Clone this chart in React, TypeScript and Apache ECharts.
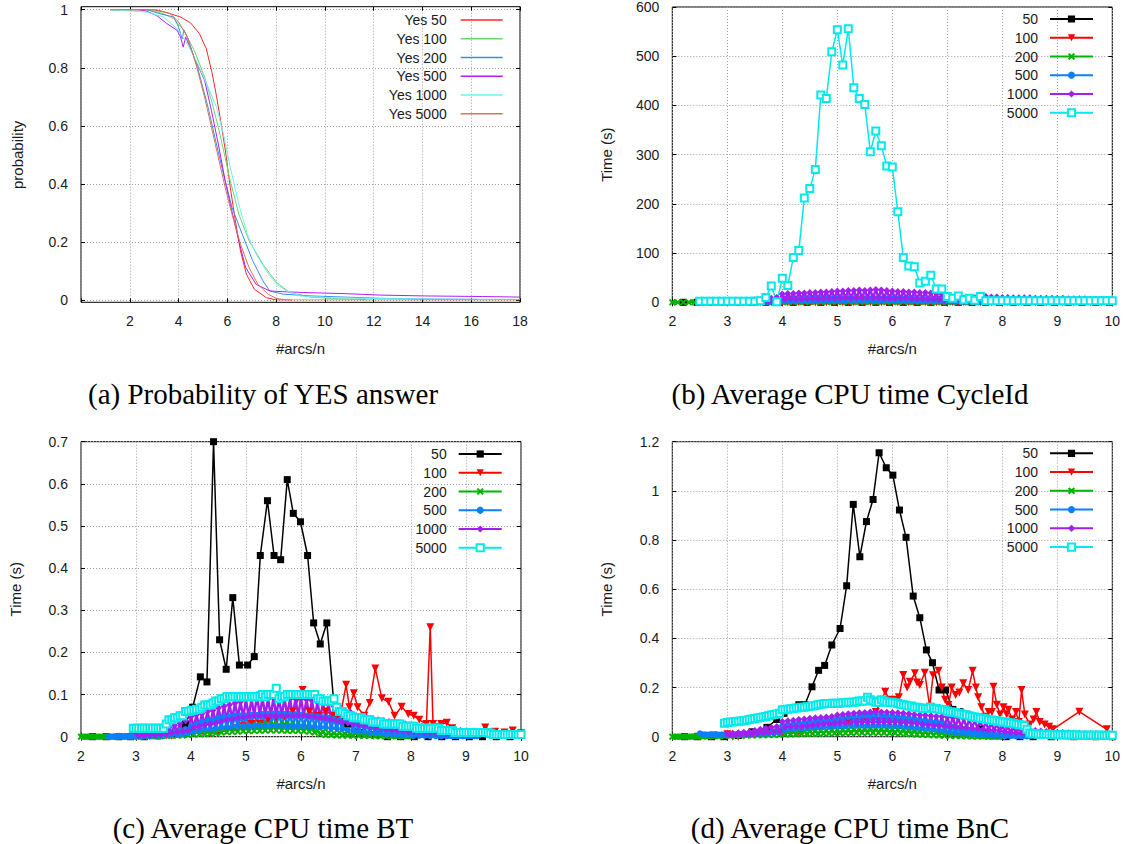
import React, { useEffect, useRef } from 'react';
import * as echarts from 'echarts';

type P = [number, number];
const N = null;

// coarse x positions (#arcs/n), step 0.1
const XS = [
  2.0, 2.1, 2.2, 2.3, 2.4, 2.5, 2.6, 2.7, 2.8, 2.9,
  3.0, 3.1, 3.2, 3.3, 3.4, 3.5, 3.6, 3.7, 3.8, 3.9,
  4.0, 4.1, 4.2, 4.3, 4.4, 4.5, 4.6, 4.7, 4.8, 4.9,
  5.0, 5.1, 5.2, 5.3, 5.4, 5.5, 5.6, 5.7, 5.8, 5.9,
  6.0, 6.1, 6.2, 6.3, 6.4, 6.5, 6.6, 6.7, 6.8, 6.9,
  7.0, 7.1, 7.2, 7.3, 7.4, 7.5, 7.6, 7.7, 7.8, 7.9,
  8.0, 8.1, 8.2, 8.3, 8.4, 8.5, 8.6, 8.7, 8.8, 8.9,
  9.0, 9.1, 9.2, 9.3, 9.4, 9.5, 9.6, 9.7, 9.8, 9.9,
  10.0,
];

// fine x positions (#arcs/n), step 0.05, for the densely sampled series
const XF = [
  2, 2.05, 2.1, 2.15, 2.2, 2.25, 2.3, 2.35, 2.4, 2.45,
  2.5, 2.55, 2.6, 2.65, 2.7, 2.75, 2.8, 2.85, 2.9, 2.95,
  3, 3.05, 3.1, 3.15, 3.2, 3.25, 3.3, 3.35, 3.4, 3.45,
  3.5, 3.55, 3.6, 3.65, 3.7, 3.75, 3.8, 3.85, 3.9, 3.95,
  4, 4.05, 4.1, 4.15, 4.2, 4.25, 4.3, 4.35, 4.4, 4.45,
  4.5, 4.55, 4.6, 4.65, 4.7, 4.75, 4.8, 4.85, 4.9, 4.95,
  5, 5.05, 5.1, 5.15, 5.2, 5.25, 5.3, 5.35, 5.4, 5.45,
  5.5, 5.55, 5.6, 5.65, 5.7, 5.75, 5.8, 5.85, 5.9, 5.95,
  6, 6.05, 6.1, 6.15, 6.2, 6.25, 6.3, 6.35, 6.4, 6.45,
  6.5, 6.55, 6.6, 6.65, 6.7, 6.75, 6.8, 6.85, 6.9, 6.95,
  7, 7.05, 7.1, 7.15, 7.2, 7.25, 7.3, 7.35, 7.4, 7.45,
  7.5, 7.55, 7.6, 7.65, 7.7, 7.75, 7.8, 7.85, 7.9, 7.95,
  8, 8.05, 8.1, 8.15, 8.2, 8.25, 8.3, 8.35, 8.4, 8.45,
  8.5, 8.55, 8.6, 8.65, 8.7, 8.75, 8.8, 8.85, 8.9, 8.95,
  9, 9.05, 9.1, 9.15, 9.2, 9.25, 9.3, 9.35, 9.4, 9.45,
  9.5, 9.55, 9.6, 9.65, 9.7, 9.75, 9.8, 9.85, 9.9, 9.95,
  10,
];

// ---------- (a) Probability of YES answer ----------
const A_NAMES = ['Yes 50', 'Yes 100', 'Yes 200', 'Yes 500', 'Yes 1000', 'Yes 5000'];
const A_YES50: P[] = [[1.2, 1], [2.96, 1], [3.52, 0.99], [4.08, 0.975], [4.5, 0.954], [4.86, 0.917], [5.14, 0.865], [5.38, 0.78], [5.56, 0.7], [5.77, 0.595], [5.94, 0.503], [6.12, 0.388], [6.33, 0.273], [6.54, 0.169], [6.78, 0.089], [7.11, 0.037], [7.6, 0.008], [8.02, 0], [8.65, 0]];
const A_YES100: P[] = [[1.2, 1], [2.82, 1], [3.38, 0.986], [3.8, 0.969], [4.22, 0.929], [4.64, 0.86], [5.07, 0.768], [5.35, 0.687], [5.63, 0.595], [5.91, 0.491], [6.12, 0.411], [6.47, 0.296], [6.89, 0.204], [7.46, 0.123], [8.02, 0.06], [8.58, 0.025], [9.43, 0.01], [10.27, 0.005], [11.68, 0.002]];
const A_YES200: P[] = [[1.2, 1], [2.68, 1], [3.24, 0.986], [3.8, 0.975], [4.0, 0.94], [4.15, 0.9], [4.22, 0.93], [4.36, 0.906], [4.78, 0.8], [5.21, 0.664], [5.49, 0.56], [5.84, 0.434], [6.19, 0.319], [6.61, 0.227], [7.04, 0.135], [7.46, 0.066], [7.74, 0.031], [8.3, 0.02], [9.43, 0.014], [10.83, 0.01], [12.24, 0.006], [14.35, 0.003], [16.25, 0.002]];
const A_YES500: P[] = [[2.39, 1], [2.68, 0.995], [3.1, 0.98], [3.52, 0.952], [3.94, 0.929], [4.08, 0.906], [4.19, 0.871], [4.29, 0.906], [4.64, 0.837], [5.07, 0.756], [5.35, 0.652], [5.63, 0.537], [5.91, 0.411], [6.12, 0.33], [6.47, 0.204], [6.75, 0.112], [7.18, 0.054], [7.74, 0.031], [8.44, 0.028], [9.43, 0.025], [10.83, 0.022], [12.24, 0.017], [14.07, 0.014], [16.46, 0.012], [18, 0.01]];
const A_YES1000: P[] = [[1.2, 1], [2.68, 0.992], [3.38, 0.975], [3.94, 0.934], [4.36, 0.883], [4.78, 0.814], [5.21, 0.733], [5.56, 0.664], [5.84, 0.572], [6.12, 0.457], [6.47, 0.33], [6.82, 0.227], [7.18, 0.158], [7.6, 0.1], [8.02, 0.054], [8.44, 0.031], [9.0, 0.014], [10.13, 0.008], [12.24, 0.005], [15.05, 0.003], [18, 0.002]];
const A_YES5000: P[] = [[1.2, 1], [3.1, 1], [3.66, 0.986], [4.01, 0.957], [4.36, 0.906], [4.71, 0.814], [5.07, 0.698], [5.35, 0.595], [5.63, 0.491], [5.91, 0.388], [6.19, 0.296], [6.54, 0.192], [6.89, 0.112], [7.25, 0.054], [7.67, 0.02], [8.02, 0.005], [8.44, 0], [18, 0]];
const A_X_TICKS = [0, 18, 2];
const A_Y_TICKS = [0, 1, 0.2];

// ---------- series names for b, c, d ----------
const N_NAMES = ['50', '100', '200', '500', '1000', '5000'];

// ---------- (b) Average CPU time CycleId ----------
const B_50: P[] = [[2.2, 0], [2.45, 0], [2.7, 0], [2.95, 0], [3.2, 0], [3.45, 0], [3.7, 0], [3.95, 0], [4.2, 0], [4.45, 0], [4.7, 0], [4.95, 0], [5.2, 0], [5.45, 0], [5.7, 0], [5.95, 0], [6.2, 0], [6.45, 0], [6.7, 0], [6.95, 0], [7.2, 0], [7.45, 0], [7.7, 0], [7.95, 0], [8.2, 0], [8.45, 0], [8.7, 0], [8.95, 0], [9.2, 0], [9.45, 0], [9.7, 0], [9.95, 0]];
const B_100 = [
  N, N, N, N, N, 0, 0, 0, 0, 0,
  0, 0, 0, 0, 0, 0, 0, 0, 0, 0,
  0, 0, 0, 0, 0, 0, 0, 0, 0, 0,
  0, 0, 0, 0, 0, 0, 0, 0, 0, 0,
  0, 0, 0, 0, 0, 0, 0, 0, 0, 0,
  0, 0, 0, 0, 0, 0, 0, 0, 0, 0,
  0, 0, 0, 0, 0, 0, 0, 0, 0, 0,
  0, 0, 0, 0, 0, 0, 0, 0, 0, 0,
  0,
];
const B_200 = [
  0, 0, 0, 0, 0, 0, 0, 0, 0, 0,
  0, 0, 0, 0, 0, 0, 0, 0.2, 0.3, 0.2,
  0.6, 0.3, 0.8, 0.4, 0.9, 0.4, 1, 0.5, 1.1, 0.5,
  1.2, 0.5, 1.2, 0.6, 1.3, 0.6, 1.2, 0.5, 1.2, 0.5,
  1.1, 0.5, 1, 0.4, 0.9, 0.4, 0.8, 0.3, 0.6, 0.3,
  0.4, 0.2, 0.3, 0.1, 0.2, 0.1, 0.1, N, N, N,
  N, N, N, N, N, N, N, N, N, N,
  N, N, N, N, N, N, N, N, N, N,
  N,
];
const B_500F = [
  N, N, N, N, N, N, N, N, N, N,
  0, 0, 0, 0, 0, 0, 0, 0, 0, 0,
  0, 0, 0.1, 0, 0.2, 0, 0.3, 0.1, 0.4, 0.1,
  0.5, 0.2, 0.6, 0.2, 0.8, 0.3, 1.5, 0.5, 2, 0.5,
  5, 2, 5.5, 2, 6, 2, 6, 2.5, 6.5, 2.5,
  6.5, 2.5, 7, 3, 7, 3, 7, 3, 7.5, 3,
  7.5, 3, 8, 3, 8, 3.5, 8, 3.5, 8, 3.5,
  8, 3.5, 8, 3.5, 8, 3.5, 7.5, 3.5, 7.5, 3,
  7.5, 3, 7, 3, 7, 3, 7, 3, 6.5, 2.5,
  6, 2.5, 6, 2, 5.5, 2, 5, 2, 4.5, 1.5,
  4, 1.5, 3.5, 1, 3, 1, 2.5, 1, 2, 0.8,
  1.5, 0.6, 1.2, 0.5, 1, 0.4, 0.8, 0.3, 0.6, 0.2,
  0.5, 0.2, 0.4, 0.2, 0.3, 0.1, 0.3, 0.1, 0.3, 0.1,
  0.2, 0.1, 0.2, 0.1, 0.2, 0.1, 0.2, 0.1, 0.2, 0.1,
  0.2, 0.1, 0.2, 0.1, 0.2, 0.1, 0.2, 0.1, 0.2, 0.1,
  0.2, 0.1, 0.2, 0.1, 0.2, 0.1, 0.2, 0.1, 0.2, 0.1,
  0.1,
];
const B_1000F = [
  N, N, N, N, N, N, N, N, N, N,
  1, 0.5, 1, 0.5, 1.2, 0.5, 1.2, 0.6, 1.5, 0.6,
  2, 0.8, 2, 1, 2.5, 1, 3, 1, 4, 1.5,
  5, 2, 5, 2, 6, 2, 8, 3, 10, 3,
  17, 6, 18, 7, 18, 6, 19, 7, 19, 7,
  20, 8, 20, 7, 21, 8, 21, 8, 22, 8,
  23, 8, 23, 9, 24, 8, 24, 9, 25, 9,
  24, 9, 25, 9, 26, 9, 25, 8, 24, 8,
  23, 8, 22, 8, 22, 8, 21, 7, 21, 7,
  20, 7, 20, 6, 19, 6, 18, 6, 17, 5,
  12, 5, 10, 4, 9, 4, 8, 4, 9, 4,
  9, 4, 10, 4, 12, 5, 11, 5, 11, 5,
  10, 4, 10, 4, 9, 4, 9, 4, 9, 4,
  9, 4, 8, 4, 8, 3, 8, 3, 8, 3,
  8, 3, 8, 3, 7, 3, 7, 3, 7, 3,
  7, 3, 6, 3, 6, 3, 6, 3, 6, 3,
  5,
];
const B_5000 = [
  N, N, N, N, N, 2, 2, 2, 2, 2,
  2, 2, 2, 2, 2, 2, 3, 10, 33, 1,
  49, 34, 91, 105, 212, 231, 270, 421, 414, 509,
  554, 482, 556, 436, 414, 402, 306, 348, 318, 277,
  275, 184, 91, 74, 72, 39, 43, 55, 27, 27,
  12, 8, 13, 5, 8, 4, 12, 3, 3, 3,
  3, 3, 3, 3, 3, 3, 3, 3, 3, 3,
  3, 3, 3, 3, 3, 3, 3, 3, 3, 3,
  3,
];
const B_Y_TICKS = [0, 600, 100];

// ---------- (c) Average CPU time BT ----------
const C_50: P[] = [[2.21, 0], [2.46, 0], [2.69, 0], [2.9, 0], [3.15, 0], [3.4, 0.002], [3.65, 0.005], [3.9, 0.03], [4.03, 0.07], [4.17, 0.142], [4.29, 0.13], [4.41, 0.7], [4.52, 0.23], [4.64, 0.16], [4.76, 0.33], [4.88, 0.17], [5.03, 0.17], [5.15, 0.19], [5.26, 0.43], [5.39, 0.56], [5.51, 0.43], [5.63, 0.42], [5.75, 0.61], [5.86, 0.53], [5.99, 0.51], [6.12, 0.43], [6.23, 0.27], [6.35, 0.22], [6.47, 0.27], [6.59, 0.09], [6.72, 0.05], [6.85, 0.03], [7.1, 0.01], [7.35, 0.005], [7.57, 0], [7.81, 0], [8.06, 0], [8.31, 0], [8.56, 0], [8.81, 0], [9.06, 0], [9.3, 0], [9.55, 0], [9.8, 0]];
const C_100: P[] = [[2.95, 0.001], [3.05, 0.001], [3.15, 0.002], [3.25, 0.001], [3.35, 0.002], [3.45, 0.002], [3.55, 0.003], [3.65, 0.002], [3.75, 0.005], [3.9, 0.008], [4.05, 0.01], [4.2, 0.012], [4.35, 0.008], [4.5, 0.01], [4.65, 0.015], [4.8, 0.02], [4.95, 0.025], [5.1, 0.03], [5.25, 0.03], [5.4, 0.04], [5.55, 0.045], [5.7, 0.05], [5.85, 0.06], [6.03, 0.111], [6.15, 0.06], [6.3, 0.05], [6.45, 0.06], [6.6, 0.05], [6.7, 0.04], [6.82, 0.123], [6.88, 0.07], [6.96, 0.103], [7.03, 0.07], [7.15, 0.05], [7.25, 0.08], [7.35, 0.162], [7.47, 0.091], [7.59, 0.083], [7.7, 0.05], [7.83, 0.071], [7.95, 0.054], [8.05, 0.05], [8.15, 0.04], [8.28, 0.03], [8.35, 0.26], [8.4, 0.03], [8.55, 0.03], [8.65, 0.033], [8.75, 0.02], [8.85, 0.008], [9.0, 0.008], [9.15, 0.01], [9.35, 0.022], [9.53, 0.012], [9.7, 0.01], [9.85, 0.015], [10, 0.008]];
const C_200F = [
  0, 0, 0, 0, 0, 0, 0, 0, 0, 0,
  0, 0, 0, 0, 0, 0, 0, 0, 0, 0,
  0.001, 0, 0.001, 0, 0.002, 0.001, 0.002, 0.001, 0.003, 0.001,
  0.004, 0.002, 0.005, 0.002, 0.006, 0.003, 0.007, 0.003, 0.008, 0.004,
  0.01, 0.005, 0.012, 0.006, 0.013, 0.006, 0.014, 0.007, 0.015, 0.008,
  0.018, 0.01, 0.02, 0.011, 0.022, 0.012, 0.024, 0.012, 0.025, 0.013,
  0.025, 0.013, 0.026, 0.014, 0.027, 0.014, 0.028, 0.015, 0.028, 0.015,
  0.03, 0.015, 0.028, 0.015, 0.03, 0.014, 0.028, 0.014, 0.027, 0.014,
  0.026, 0.013, 0.025, 0.012, 0.024, 0.01, 0.015, 0.006, 0.012, 0.004,
  0.01, 0.004, 0.008, 0.003, 0.01, 0.003, 0.007, 0.003, 0.006, 0.002,
  0.01, 0.002, 0.006, 0.002, 0.005, 0.002, 0.005, 0.001, 0.004, 0.001,
  0.004, 0.001, 0.003, 0.001, 0.003, 0.001, 0.002, 0.001, 0.002, 0.001,
  0.001, N, N, N, N, N, N, N, N, N,
  N, N, N, N, N, N, N, N, N, N,
  N, N, N, N, N, N, N, N, N, N,
  N, N, N, N, N, N, N, N, N, N,
  N,
];
const C_500F = [
  N, N, N, N, N, N, N, N, N, N,
  0.001, 0, 0.001, 0, 0.002, 0.001, 0.002, 0.001, 0.002, 0.001,
  0.003, 0.001, 0.003, 0.001, 0.004, 0.001, 0.005, 0.002, 0.006, 0.002,
  0.008, 0.003, 0.01, 0.004, 0.012, 0.005, 0.015, 0.006, 0.018, 0.008,
  0.025, 0.012, 0.03, 0.015, 0.035, 0.018, 0.038, 0.018, 0.04, 0.02,
  0.045, 0.022, 0.047, 0.023, 0.048, 0.024, 0.05, 0.024, 0.05, 0.025,
  0.05, 0.025, 0.052, 0.025, 0.052, 0.026, 0.054, 0.026, 0.054, 0.026,
  0.055, 0.026, 0.055, 0.026, 0.054, 0.025, 0.054, 0.025, 0.053, 0.025,
  0.052, 0.025, 0.05, 0.024, 0.05, 0.024, 0.048, 0.022, 0.046, 0.022,
  0.045, 0.02, 0.042, 0.02, 0.04, 0.018, 0.038, 0.016, 0.035, 0.015,
  0.032, 0.013, 0.03, 0.012, 0.027, 0.01, 0.025, 0.009, 0.022, 0.008,
  0.018, 0.006, 0.015, 0.005, 0.012, 0.004, 0.01, 0.003, 0.008, 0.003,
  0.007, 0.002, 0.006, 0.002, 0.005, 0.002, 0.004, 0.001, 0.004, 0.001,
  0.003, 0.001, 0.003, 0.001, 0.002, 0.001, 0.002, 0.001, 0.002, 0.001,
  0.002, 0.001, 0.002, 0.001, 0.001, N, N, N, N, N,
  N, N, N, N, N, N, N, N, N, N,
  N,
];
const C_1000F = [
  N, N, N, N, N, N, N, N, N, N,
  N, N, N, N, N, N, N, N, N, N,
  0.008, 0.003, 0.009, 0.003, 0.01, 0.004, 0.012, 0.004, 0.014, 0.005,
  0.018, 0.007, 0.022, 0.009, 0.027, 0.011, 0.032, 0.013, 0.038, 0.015,
  0.048, 0.022, 0.052, 0.025, 0.055, 0.028, 0.06, 0.03, 0.063, 0.032,
  0.068, 0.036, 0.072, 0.04, 0.076, 0.042, 0.08, 0.045, 0.083, 0.046,
  0.088, 0.048, 0.09, 0.05, 0.1, 0.05, 0.092, 0.05, 0.09, 0.05,
  0.092, 0.05, 0.09, 0.05, 0.091, 0.05, 0.09, 0.05, 0.09, 0.05,
  0.09, 0.05, 0.088, 0.048, 0.086, 0.047, 0.082, 0.045, 0.08, 0.043,
  0.078, 0.04, 0.072, 0.038, 0.066, 0.035, 0.062, 0.033, 0.058, 0.03,
  0.05, 0.028, 0.048, 0.026, 0.045, 0.024, 0.043, 0.022, 0.04, 0.02,
  0.038, 0.018, 0.036, 0.016, 0.034, 0.015, 0.032, 0.014, 0.03, 0.013,
  0.028, 0.012, 0.026, 0.011, 0.025, 0.01, 0.024, 0.01, 0.022, 0.009,
  0.02, 0.008, 0.018, 0.007, 0.017, 0.007, 0.016, 0.006, 0.015, 0.005,
  0.012, 0.005, 0.012, 0.004, 0.011, 0.004, 0.01, 0.004, 0.01, 0.003,
  0.009, 0.003, 0.008, 0.003, 0.008, 0.003, 0.007, 0.003, 0.006, 0.003,
  0.005,
];
const C_5000F = [
  N, N, N, N, N, N, N, N, N, N,
  N, N, N, N, N, N, N, N, N, 0.02,
  0.02, 0.02, 0.02, 0.02, 0.02, 0.02, 0.02, 0.02, 0.02, 0.02,
  0.02, 0.03, 0.04, 0.04, 0.045, 0.045, 0.05, 0.05, 0.06, 0.06,
  0.063, 0.063, 0.065, 0.065, 0.07, 0.075, 0.075, 0.075, 0.08, 0.085,
  0.085, 0.09, 0.09, 0.095, 0.095, 0.095, 0.095, 0.095, 0.095, 0.095,
  0.095, 0.095, 0.095, 0.095, 0.095, 0.095, 0.1, 0.095, 0.1, 0.1,
  0.1, 0.115, 0.09, 0.095, 0.095, 0.1, 0.1, 0.1, 0.1, 0.1,
  0.1, 0.1, 0.1, 0.1, 0.1, 0.1, 0.09, 0.09, 0.085, 0.085,
  0.085, 0.085, 0.09, 0.07, 0.06, 0.06, 0.055, 0.05, 0.05, 0.045,
  0.045, 0.045, 0.045, 0.04, 0.04, 0.04, 0.035, 0.035, 0.035, 0.035,
  0.03, 0.03, 0.03, 0.03, 0.03, 0.03, 0.03, 0.025, 0.025, 0.025,
  0.025, 0.025, 0.02, 0.02, 0.02, 0.02, 0.02, 0.02, 0.02, 0.02,
  0.02, 0.015, 0.015, 0.015, 0.015, 0.015, 0.01, 0.01, 0.01, 0.01,
  0.01, 0.01, 0.01, 0.01, 0.01, 0.01, 0.01, 0.01, 0.01, 0.008,
  0.005, 0.005, 0.005, 0.005, 0.005, 0.005, 0.005, 0.005, 0.005, 0.005,
  0.005,
];
const C_Y_TICKS = [0, 0.7, 0.1];

// ---------- (d) Average CPU time BnC ----------
const D_50: P[] = [[2.22, 0], [2.46, 0], [2.71, 0], [2.94, 0], [3.2, 0.005], [3.45, 0.02], [3.72, 0.038], [3.9, 0.07], [4.03, 0.095], [4.3, 0.13], [4.41, 0.13], [4.54, 0.203], [4.66, 0.27], [4.77, 0.29], [4.9, 0.373], [5.05, 0.44], [5.17, 0.614], [5.29, 0.945], [5.41, 0.732], [5.53, 0.875], [5.65, 0.965], [5.76, 1.155], [5.89, 1.094], [6.01, 1.064], [6.13, 0.922], [6.25, 0.811], [6.38, 0.572], [6.5, 0.484], [6.62, 0.353], [6.73, 0.301], [6.85, 0.19], [6.97, 0.19], [7.1, 0.111], [7.23, 0.102], [7.36, 0.091], [7.6, 0.03], [8.07, 0], [8.32, 0], [8.56, 0], [8.89, 0], [9.3, 0], [9.7, 0], [10, 0]];
const D_100: P[] = [[2.47, 0], [2.75, 0.005], [3.0, 0.01], [3.1, 0], [3.2, 0], [3.3, 0.005], [3.5, 0.01], [3.7, 0.012], [4.0, 0.015], [4.3, 0.02], [4.6, 0.03], [4.9, 0.04], [5.2, 0.06], [5.5, 0.08], [5.7, 0.1], [5.87, 0.183], [5.95, 0.15], [6.05, 0.15], [6.12, 0.16], [6.2, 0.251], [6.27, 0.2], [6.32, 0.224], [6.41, 0.258], [6.45, 0.22], [6.5, 0.21], [6.59, 0.26], [6.68, 0.122], [6.74, 0.25], [6.84, 0.268], [6.9, 0.2], [6.96, 0.15], [7.02, 0.129], [7.08, 0.2], [7.15, 0.17], [7.22, 0.18], [7.29, 0.217], [7.38, 0.19], [7.46, 0.268], [7.52, 0.2], [7.56, 0.16], [7.62, 0.12], [7.69, 0.081], [7.75, 0.1], [7.81, 0.1], [7.84, 0.203], [7.9, 0.13], [7.96, 0.09], [8.02, 0.12], [8.08, 0.09], [8.11, 0.11], [8.18, 0.07], [8.25, 0.1], [8.3, 0.06], [8.35, 0.19], [8.41, 0.09], [8.5, 0.05], [8.57, 0.07], [8.62, 0.1], [8.68, 0.06], [8.77, 0.05], [8.85, 0.04], [8.92, 0.03], [9.4, 0.102], [9.9, 0.03]];
const D_200F = [
  0, 0, 0, 0, 0, 0, 0, 0, 0.001, 0,
  0.002, 0.001, 0.003, 0.001, 0.004, 0.002, 0.005, 0.002, 0.005, 0.003,
  0.007, 0.004, 0.008, 0.004, 0.009, 0.005, 0.01, 0.005, 0.011, 0.005,
  0.012, 0.006, 0.013, 0.006, 0.014, 0.007, 0.015, 0.007, 0.016, 0.008,
  0.018, 0.009, 0.019, 0.01, 0.02, 0.01, 0.021, 0.011, 0.022, 0.011,
  0.023, 0.012, 0.024, 0.012, 0.025, 0.013, 0.026, 0.013, 0.027, 0.014,
  0.028, 0.014, 0.029, 0.015, 0.03, 0.015, 0.031, 0.016, 0.032, 0.016,
  0.033, 0.016, 0.034, 0.016, 0.033, 0.016, 0.032, 0.016, 0.032, 0.015,
  0.031, 0.015, 0.03, 0.014, 0.029, 0.012, 0.028, 0.01, 0.026, 0.009,
  0.024, 0.008, 0.022, 0.007, 0.02, 0.006, 0.018, 0.005, 0.016, 0.004,
  0.014, 0.003, 0.012, 0.003, 0.01, 0.002, 0.008, 0.002, 0.006, 0.001,
  0.005, 0.001, 0.003, 0.001, 0.002, 0, 0.001, 0, 0.001, 0,
  0, N, N, N, N, N, N, N, N, N,
  N, N, N, N, N, N, N, N, N, N,
  N, N, N, N, N, N, N, N, N, N,
  N, N, N, N, N, N, N, N, N, N,
  N,
];
const D_500F = [
  N, N, N, N, N, N, N, N, N, N,
  0.014, 0.01, 0.01, 0.009, 0.01, 0.009, 0.01, 0.009, 0.01, 0.009,
  0.01, 0.009, 0.011, 0.009, 0.012, 0.01, 0.012, 0.01, 0.013, 0.01,
  0.014, 0.011, 0.015, 0.011, 0.016, 0.012, 0.018, 0.013, 0.02, 0.014,
  0.045, 0.028, 0.05, 0.03, 0.052, 0.032, 0.055, 0.033, 0.058, 0.035,
  0.062, 0.037, 0.065, 0.038, 0.068, 0.04, 0.07, 0.04, 0.072, 0.042,
  0.075, 0.042, 0.078, 0.043, 0.08, 0.044, 0.082, 0.045, 0.085, 0.045,
  0.086, 0.045, 0.088, 0.045, 0.09, 0.045, 0.088, 0.045, 0.086, 0.044,
  0.084, 0.043, 0.082, 0.042, 0.08, 0.04, 0.077, 0.038, 0.074, 0.036,
  0.07, 0.034, 0.066, 0.032, 0.062, 0.03, 0.058, 0.027, 0.054, 0.024,
  0.045, 0.02, 0.04, 0.017, 0.035, 0.014, 0.03, 0.012, 0.025, 0.01,
  0.02, 0.008, 0.016, 0.006, 0.013, 0.005, 0.01, 0.004, 0.008, 0.003,
  0.006, 0.002, 0.005, 0.002, 0.004, 0.001, 0.004, 0.001, 0.003, 0.001,
  0.002, N, N, N, N, N, N, N, N, N,
  N, N, N, N, N, N, N, N, N, N,
  N, N, N, N, N, N, N, N, N, N,
  N,
];
const D_1000F = [
  N, N, N, N, N, N, N, N, N, N,
  N, N, N, N, N, N, N, N, N, N,
  0.012, 0.006, 0.014, 0.007, 0.016, 0.008, 0.018, 0.009, 0.02, 0.01,
  0.025, 0.012, 0.03, 0.015, 0.034, 0.017, 0.038, 0.019, 0.042, 0.02,
  0.062, 0.038, 0.065, 0.04, 0.067, 0.041, 0.07, 0.042, 0.072, 0.044,
  0.075, 0.047, 0.077, 0.05, 0.078, 0.052, 0.08, 0.054, 0.082, 0.055,
  0.088, 0.056, 0.09, 0.057, 0.093, 0.058, 0.095, 0.058, 0.097, 0.06,
  0.098, 0.06, 0.1, 0.06, 0.1, 0.06, 0.1, 0.06, 0.099, 0.06,
  0.098, 0.06, 0.097, 0.058, 0.095, 0.057, 0.093, 0.056, 0.09, 0.054,
  0.088, 0.05, 0.087, 0.048, 0.085, 0.046, 0.083, 0.045, 0.082, 0.044,
  0.08, 0.042, 0.078, 0.04, 0.076, 0.038, 0.074, 0.036, 0.072, 0.034,
  0.068, 0.032, 0.064, 0.03, 0.06, 0.028, 0.056, 0.026, 0.052, 0.024,
  0.045, 0.02, 0.042, 0.018, 0.038, 0.016, 0.034, 0.014, 0.03, 0.012,
  0.027, 0.01, 0.025, 0.009, 0.023, 0.008, 0.021, 0.007, 0.019, 0.006,
  0.018, 0.006, 0.017, 0.005, 0.016, 0.005, 0.015, 0.005, 0.014, 0.004,
  0.013, 0.004, 0.012, 0.004, 0.012, 0.004, 0.011, 0.004, 0.01, 0.004,
  0.008,
];
const D_5000F = [
  N, N, N, N, N, N, N, N, N, N,
  N, N, N, N, N, N, N, N, N, 0.055,
  0.058, 0.06, 0.06, 0.062, 0.063, 0.064, 0.065, 0.067, 0.07, 0.072,
  0.074, 0.076, 0.078, 0.08, 0.082, 0.085, 0.088, 0.09, 0.092, 0.095,
  0.11, 0.11, 0.112, 0.114, 0.115, 0.117, 0.118, 0.12, 0.12, 0.122,
  0.124, 0.125, 0.127, 0.13, 0.132, 0.134, 0.135, 0.135, 0.136, 0.136,
  0.136, 0.136, 0.138, 0.138, 0.14, 0.14, 0.14, 0.142, 0.145, 0.145,
  0.145, 0.16, 0.15, 0.145, 0.14, 0.14, 0.15, 0.145, 0.14, 0.14,
  0.14, 0.138, 0.135, 0.132, 0.13, 0.128, 0.125, 0.125, 0.12, 0.12,
  0.118, 0.116, 0.115, 0.115, 0.12, 0.115, 0.115, 0.112, 0.11, 0.11,
  0.105, 0.1, 0.1, 0.098, 0.095, 0.092, 0.09, 0.088, 0.085, 0.082,
  0.08, 0.078, 0.075, 0.075, 0.072, 0.07, 0.068, 0.066, 0.065, 0.063,
  0.06, 0.06, 0.058, 0.056, 0.055, 0.052, 0.05, 0.048, 0.045, 0.03,
  0.015, 0.012, 0.012, 0.01, 0.01, 0.01, 0.009, 0.009, 0.008, 0.008,
  0.008, 0.008, 0.008, 0.007, 0.007, 0.007, 0.007, 0.007, 0.006, 0.006,
  0.006, 0.006, 0.006, 0.006, 0.006, 0.006, 0.006, 0.006, 0.006, 0.006,
  0.006,
];
const D_Y_TICKS = [0, 1.2, 0.2];
const BCD_X_TICKS = [2, 10, 1];

const CAPTIONS = ['(a) Probability of YES answer', '(b) Average CPU time CycleId', '(c) Average CPU time BT', '(d) Average CPU time BnC'];

// ---------- styling ----------
const SANS = 'Liberation Sans';
const TXT = '#1a1a1a';
const A_COLORS = ['#ff2a2a', '#6fd46f', '#3a8cf5', '#b41ef5', '#6ef0f0', '#d47850'];
const N_COLORS = ['#000000', '#ff0000', '#00b400', '#0a80ff', '#a31ff0', '#00eaea'];
const CROSS = 'path://M0,2 L2,0 L5,3 L8,0 L10,2 L7,5 L10,8 L8,10 L5,7 L2,10 L0,8 L3,5 Z';
const N_SYMBOLS = ['rect', 'triangle', CROSS, 'circle', 'diamond', 'emptyRect'];
const N_SIZES = [7, 8, 7, 6, 7, 7];
const N_ROT = [0, 180, 0, 0, 0, 0];
const N_WIDTHS = [1.5, 1.5, 2.5, 2.5, 2.5, 1.5];

function onGrid(xs: number[], ys: (number | null)[]): P[] {
  const out: P[] = [];
  ys.forEach((y, i) => {
    if (y !== null && y !== undefined) out.push([xs[i], y]);
  });
  return out;
}

const splitLine = { show: true, lineStyle: { color: '#a0a0a0', type: [1, 2] as any, width: 1 } };
const tick = { show: true, inside: true, length: 4, lineStyle: { color: '#000', width: 1 } };
const labelStyle = { fontSize: 14, color: TXT, fontFamily: SANS };
const nameStyle = { fontSize: 15, color: TXT, fontFamily: SANS };

function xMain(grid: number, t: number[], extra: any = {}) {
  return {
    type: 'value', gridIndex: grid, min: t[0], max: t[1], interval: t[2], position: 'bottom',
    axisLine: { show: false }, axisTick: tick,
    axisLabel: { margin: 12, ...labelStyle }, splitLine,
    name: '#arcs/n', nameLocation: 'middle', nameGap: 39, nameTextStyle: nameStyle,
    ...extra,
  };
}
function xMirror(grid: number, t: number[]) {
  return {
    type: 'value', gridIndex: grid, min: t[0], max: t[1], interval: t[2], position: 'top',
    axisLine: { show: false }, axisTick: tick, axisLabel: { show: false }, splitLine: { show: false },
  };
}
function yMain(grid: number, t: number[], name: string, gap: number) {
  return {
    type: 'value', gridIndex: grid, min: t[0], max: t[1], interval: t[2], position: 'left',
    axisLine: { show: false }, axisTick: tick,
    axisLabel: { margin: 13, ...labelStyle }, splitLine,
    name, nameLocation: 'middle', nameGap: gap, nameTextStyle: nameStyle,
  };
}
function yMirror(grid: number, t: number[]) {
  return {
    type: 'value', gridIndex: grid, min: t[0], max: t[1], interval: t[2], position: 'right',
    axisLine: { show: false }, axisTick: tick, axisLabel: { show: false }, splitLine: { show: false },
  };
}

function nSeries(datas: P[][], axis: number) {
  return datas.map((d, i) => ({
    type: 'line', name: N_NAMES[i], data: d, xAxisIndex: axis, yAxisIndex: axis,
    symbol: N_SYMBOLS[i], symbolSize: N_SIZES[i], symbolRotate: N_ROT[i], showAllSymbol: true,
    lineStyle: { color: N_COLORS[i], width: N_WIDTHS[i] },
    itemStyle: i === 5
      ? { color: N_COLORS[i], borderColor: N_COLORS[i], borderWidth: 1.5 }
      : { color: N_COLORS[i], borderWidth: 0 },
  }));
}

function nLegend(top: number, right: number) {
  return {
    orient: 'vertical', align: 'right', top, right, padding: 0,
    itemWidth: 43, itemHeight: 9, itemGap: 4.75,
    data: N_NAMES,
    lineStyle: { width: 2 },
    textStyle: { ...labelStyle, lineHeight: 14, padding: [0, 7, 0, 0] },
  };
}

function caption(x: number, y: number, text: string) {
  return {
    type: 'text', x, y,
    style: { text, fontSize: 29, fontFamily: 'Liberation Serif', fill: '#000', align: 'center', verticalAlign: 'middle' },
  };
}

const frame = { show: true, borderColor: '#000', borderWidth: 1, backgroundColor: 'transparent' };

export default function App() {
  const ref = useRef<HTMLDivElement>(null);
  useEffect(() => {
    if (!ref.current) return;
    const chart = echarts.init(ref.current, null, { renderer: 'svg' });
    const aData = [A_YES50, A_YES100, A_YES200, A_YES500, A_YES1000, A_YES5000];
    const option: any = {
      animation: false,
      backgroundColor: '#fff',
      grid: [
        { left: 81, top: 6.7, width: 439, height: 295.6, ...frame },   // (a) frame
        { left: 81, top: 9.7, width: 439, height: 290.3 },              // (a) plot
        { left: 672.3, top: 6.7, width: 440, height: 295.6, ...frame }, // (b)
        { left: 81, top: 441.7, width: 440, height: 295, ...frame },    // (c)
        { left: 672.3, top: 441.7, width: 440, height: 295, ...frame }, // (d)
      ],
      xAxis: [
        xMain(0, A_X_TICKS, { axisLabel: { margin: 12, ...labelStyle, formatter: (v: number) => (v === 0 ? '' : String(v)) } }),
        xMirror(0, A_X_TICKS),
        { type: 'value', gridIndex: 1, min: A_X_TICKS[0], max: A_X_TICKS[1], show: false },
        xMain(2, BCD_X_TICKS), xMirror(2, BCD_X_TICKS),
        xMain(3, BCD_X_TICKS), xMirror(3, BCD_X_TICKS),
        xMain(4, BCD_X_TICKS), xMirror(4, BCD_X_TICKS),
      ],
      yAxis: [
        { type: 'value', gridIndex: 0, min: 0, max: 1, show: false },
        yMain(1, A_Y_TICKS, 'probability', 56), yMirror(1, A_Y_TICKS),
        yMain(2, B_Y_TICKS, 'Time (s)', 58), yMirror(2, B_Y_TICKS),
        yMain(3, C_Y_TICKS, 'Time (s)', 58), yMirror(3, C_Y_TICKS),
        yMain(4, D_Y_TICKS, 'Time (s)', 58), yMirror(4, D_Y_TICKS),
      ],
      legend: [
        {
          orient: 'vertical', align: 'right', top: 13, right: 622.3, padding: 0,
          itemWidth: 42, itemHeight: 1.5, itemGap: 4.75, icon: 'rect',
          data: A_NAMES,
          textStyle: { ...labelStyle, lineHeight: 14, padding: [0, 9, 0, 0] },
        },
        nLegend(12, 31),
        nLegend(447, 622.3),
        nLegend(446.3, 31),
      ],
      series: [
        ...aData.map((d, i) => ({
          type: 'line', name: A_NAMES[i], data: d, xAxisIndex: 2, yAxisIndex: 1,
          symbol: 'none', lineStyle: { color: A_COLORS[i], width: 1 }, itemStyle: { color: A_COLORS[i] },
        })),
        ...nSeries([B_50, onGrid(XS, B_100), onGrid(XS, B_200), onGrid(XF, B_500F), onGrid(XF, B_1000F), onGrid(XS, B_5000)], 3),
        ...nSeries([C_50, C_100, onGrid(XF, C_200F), onGrid(XF, C_500F), onGrid(XF, C_1000F), onGrid(XF, C_5000F)], 5),
        ...nSeries([D_50, D_100, onGrid(XF, D_200F), onGrid(XF, D_500F), onGrid(XF, D_1000F), onGrid(XF, D_5000F)], 7),
      ],
      graphic: [
        caption(263, 393.5, CAPTIONS[0]),
        caption(850, 393.5, CAPTIONS[1]),
        caption(263, 828.3, CAPTIONS[2]),
        caption(850, 828.3, CAPTIONS[3]),
      ],
    };
    chart.setOption(option);
    return () => chart.dispose();
  }, []);
  return (
    <div
      ref={ref}
      style={{ position: 'absolute', left: 0, top: 0, width: 1125, height: 844, background: '#fff' }}
    />
  );
}
